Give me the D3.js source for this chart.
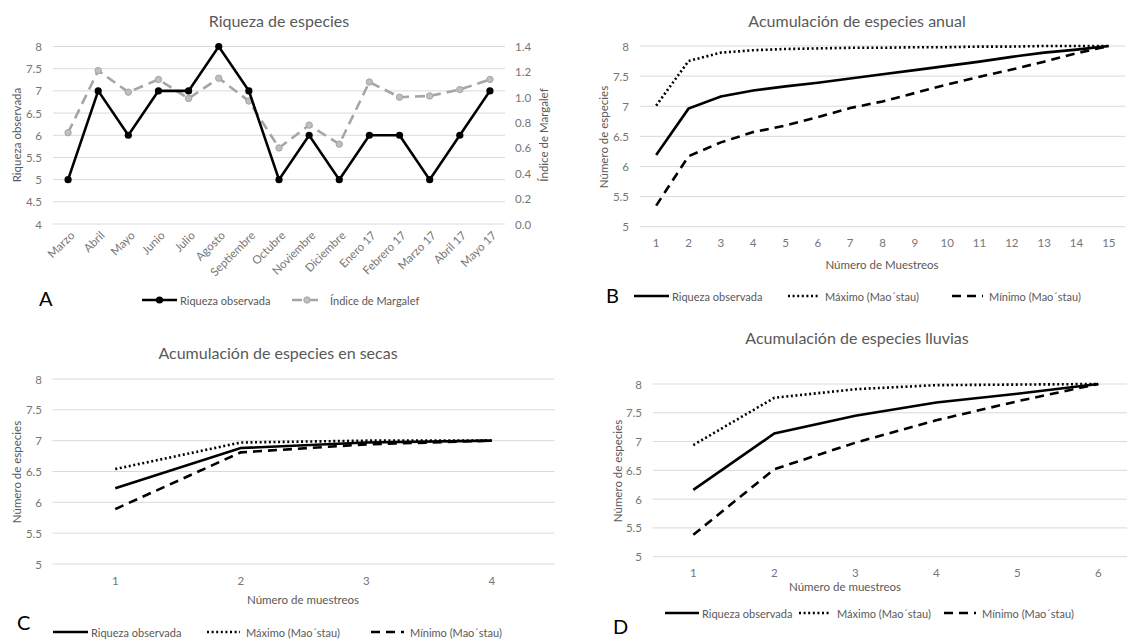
<!DOCTYPE html>
<html>
<head>
<meta charset="utf-8">
<script src="https://cdn.jsdelivr.net/npm/d3@7"></script>
<style>
  body { margin: 0; background: #fff; }
  text { font-family: Lato, "Open Sans", sans-serif; }
</style>
</head>
<body>
<svg id="fig" width="1127" height="639"></svg>
<script>
// ---- Riqueza mensual (panel A) ----
const meses = ["Marzo", "Abril", "Mayo", "Junio", "Julio", "Agosto", "Septiembre", "Octubre",
  "Noviembre", "Diciembre", "Enero 17", "Febrero 17", "Marzo 17", "Abril 17", "Mayo 17"];
const riquezaObservada = [5, 7, 6, 7, 7, 8, 7, 5, 6, 5, 6, 6, 5, 6, 7];
const indiceMargalef = [0.72, 1.21, 1.04, 1.14, 0.99, 1.15, 0.97, 0.60, 0.78, 0.63, 1.12, 1.00, 1.01, 1.06, 1.14];
const ticksRiqueza = [4, 4.5, 5, 5.5, 6, 6.5, 7, 7.5, 8];
const ticksMargalef = [0, 0.2, 0.4, 0.6, 0.8, 1.0, 1.2, 1.4];

// ---- Acumulación anual (panel B) ----
const muestreosAnual = [1, 2, 3, 4, 5, 6, 7, 8, 9, 10, 11, 12, 13, 14, 15];
const anualObservada = [6.19, 6.96, 7.16, 7.26, 7.33, 7.39, 7.46, 7.53, 7.60, 7.67, 7.74, 7.82, 7.89, 7.94, 8.0];
const anualMaximo = [7.01, 7.75, 7.89, 7.93, 7.95, 7.96, 7.97, 7.97, 7.98, 7.98, 7.99, 7.99, 8.0, 8.0, 8.0];
const anualMinimo = [5.35, 6.17, 6.40, 6.57, 6.68, 6.82, 6.97, 7.08, 7.22, 7.36, 7.49, 7.61, 7.74, 7.88, 8.0];

// ---- Acumulación en secas (panel C) ----
const muestreosSecas = [1, 2, 3, 4];
const secasObservada = [6.23, 6.88, 6.97, 7.0];
const secasMaximo = [6.54, 6.97, 7.0, 7.0];
const secasMinimo = [5.89, 6.81, 6.94, 7.0];

// ---- Acumulación en lluvias (panel D) ----
const muestreosLluvias = [1, 2, 3, 4, 5, 6];
const lluviasObservada = [6.16, 7.14, 7.45, 7.68, 7.83, 8.0];
const lluviasMaximo = [6.94, 7.76, 7.91, 7.98, 7.99, 8.0];
const lluviasMinimo = [5.38, 6.52, 6.98, 7.37, 7.70, 8.0];

const ticksEspecies = [5, 5.5, 6, 6.5, 7, 7.5, 8];

const svg = d3.select("#fig");
svg.append("rect").attr("width", 1127).attr("height", 639).attr("fill", "#fff");

const GRID = "#d9d9d9", TICK = "#767676", LABEL = "#595959";

const estilos = {
  obs: { dash: null, width: 2.6 },
  max: { dash: "2,2.6", width: 2.6 },
  min: { dash: "9,6", width: 2.6 }
};

function fmtTick(v) { return String(v); }

function yGrid(g, y, ticks, x0, x1) {
  g.selectAll("line.grid").data(ticks).join("line")
    .attr("class", "grid")
    .attr("x1", x0).attr("x2", x1)
    .attr("y1", d => y(d)).attr("y2", d => y(d))
    .attr("stroke", GRID).attr("stroke-width", 1);
}

function yLabels(g, y, ticks, xRight, fmt, anchor) {
  g.append("g").selectAll("text").data(ticks).join("text")
    .attr("x", xRight).attr("y", d => y(d))
    .attr("dominant-baseline", "central")
    .attr("text-anchor", anchor || "end")
    .attr("font-size", 11.5).attr("fill", TICK)
    .text(fmt);
}

function textAt(g, x, y, s, size, color, rotate, anchor) {
  const t = g.append("text")
    .attr("font-size", size).attr("fill", color)
    .attr("text-anchor", anchor || "middle")
    .attr("dominant-baseline", "central")
    .text(s);
  if (rotate) t.attr("transform", `translate(${x},${y}) rotate(${rotate})`);
  else t.attr("x", x).attr("y", y);
  return t;
}

function legendLine(g, x0, x1, y, style, color) {
  g.append("line").attr("x1", x0).attr("x2", x1).attr("y1", y).attr("y2", y)
    .attr("stroke", color || "#000").attr("stroke-width", style.width)
    .attr("stroke-dasharray", style.dash);
}

// ---------- Panel A ----------
(function () {
  const g = svg.append("g");
  const x = d3.scaleBand().domain(meses).range([53, 505]);
  const y = d3.scaleLinear().domain([4, 8]).range([224, 46.5]);
  const y2 = d3.scaleLinear().domain([0, 1.4]).range([224, 46.5]);
  const cx = d => x(d) + x.bandwidth() / 2;

  yGrid(g, y, ticksRiqueza, 53, 505);
  yLabels(g, y, ticksRiqueza, 42, fmtTick);
  yLabels(g, y2, ticksMargalef, 515, d3.format(".1f"), "start");

  g.append("g").selectAll("text").data(meses).join("text")
    .attr("transform", d => `translate(${cx(d) + 4},${233}) rotate(-45)`)
    .attr("text-anchor", "end").attr("dominant-baseline", "central")
    .attr("font-size", 11.5).attr("fill", TICK).text(d => d);

  textAt(g, 279, 20, "Riqueza de especies", 16, LABEL);
  textAt(g, 16, 135, "Riqueza observada", 11.5, LABEL, -90);
  textAt(g, 543, 135, "Índice de Margalef", 11.5, LABEL, -90);

  const m = meses.map((d, i) => ({ k: d, r: riquezaObservada[i], s: indiceMargalef[i] }));
  g.append("path").datum(m)
    .attr("d", d3.line().x(d => cx(d.k)).y(d => y2(d.s)))
    .attr("fill", "none").attr("stroke", "#a5a5a5").attr("stroke-width", 2.6)
    .attr("stroke-dasharray", "10,6");
  g.append("g").selectAll("circle").data(m).join("circle")
    .attr("cx", d => cx(d.k)).attr("cy", d => y2(d.s)).attr("r", 3.2)
    .attr("fill", "#bfbfbf").attr("stroke", "#a5a5a5").attr("stroke-width", 1);
  g.append("path").datum(m)
    .attr("d", d3.line().x(d => cx(d.k)).y(d => y(d.r)))
    .attr("fill", "none").attr("stroke", "#000").attr("stroke-width", 2.6);
  g.append("g").selectAll("circle").data(m).join("circle")
    .attr("cx", d => cx(d.k)).attr("cy", d => y(d.r)).attr("r", 3.6).attr("fill", "#000");

  // legend
  legendLine(g, 142, 177, 300, estilos.obs);
  g.append("circle").attr("cx", 159.5).attr("cy", 300).attr("r", 3.6).attr("fill", "#000");
  textAt(g, 180, 300, "Riqueza observada", 11, LABEL, null, "start");
  legendLine(g, 292, 322, 300, { dash: "10,6", width: 2.6 }, "#a5a5a5");
  g.append("circle").attr("cx", 307).attr("cy", 300).attr("r", 3.2)
    .attr("fill", "#bfbfbf").attr("stroke", "#a5a5a5");
  textAt(g, 330, 300, "Índice de Margalef", 11, LABEL, null, "start");

  textAt(g, 39, 298, "A", 20, "#000", null, "start");
})();

// ---------- Curvas de acumulación (B, C, D) ----------
function panelAcumulacion(c) {
  const g = svg.append("g");
  const x = d3.scaleBand().domain(c.cats).range([c.x0, c.x1]);
  const y = d3.scaleLinear().domain([5, 8]).range([c.yb, c.yt]);
  const cx = d => x(d) + x.bandwidth() / 2;

  yGrid(g, y, ticksEspecies, c.x0, c.x1);
  yLabels(g, y, ticksEspecies, c.yLabRight, fmtTick);
  g.append("g").selectAll("text").data(c.cats).join("text")
    .attr("x", d => cx(d)).attr("y", c.xLabY)
    .attr("text-anchor", "middle").attr("dominant-baseline", "central")
    .attr("font-size", 11.5).attr("fill", TICK).text(d => d);

  textAt(g, c.title[0], c.title[1], c.titleText, 16, LABEL);
  textAt(g, c.xTitle[0], c.xTitle[1], c.xTitleText, 11.5, LABEL);
  textAt(g, c.yTitle[0], c.yTitle[1], "Número  de especies", 11.5, LABEL, -90);

  const series = [
    { key: "max", vals: c.max },
    { key: "min", vals: c.min },
    { key: "obs", vals: c.obs }
  ];
  series.forEach(s => {
    const pts = c.cats.map((k, i) => [cx(k), y(s.vals[i])]);
    g.append("path").datum(pts)
      .attr("d", d3.line())
      .attr("fill", "none").attr("stroke", "#000")
      .attr("stroke-width", estilos[s.key].width)
      .attr("stroke-dasharray", estilos[s.key].dash);
  });

  // legend
  const L = c.legend;
  legendLine(g, L.obs[0], L.obs[1], L.y, estilos.obs);
  textAt(g, L.obs[1] + 3, L.y, "Riqueza observada", 11, LABEL, null, "start");
  legendLine(g, L.max[0], L.max[1], L.y, estilos.max);
  textAt(g, L.max[1] + 6, L.y, "Máximo (Mao´stau)", 11, LABEL, null, "start");
  legendLine(g, L.min[0], L.min[1], L.y, estilos.min);
  textAt(g, L.min[1] + 6, L.y, "Mínimo (Mao´stau)", 11, LABEL, null, "start");

  textAt(g, c.letter[0], c.letter[1], c.letterText, 20, "#000", null, "start");
}

panelAcumulacion({
  cats: muestreosAnual, obs: anualObservada, max: anualMaximo, min: anualMinimo,
  x0: 640, x1: 1125, yb: 226.7, yt: 46, yLabRight: 629, xLabY: 242,
  title: [857, 20], titleText: "Acumulación de especies anual",
  xTitle: [882, 264], xTitleText: "Número  de Muestreos",
  yTitle: [603, 137],
  legend: { y: 296, obs: [634, 669], max: [788, 819], min: [952, 983] },
  letter: [606, 295], letterText: "B"
});

panelAcumulacion({
  cats: muestreosSecas, obs: secasObservada, max: secasMaximo, min: secasMinimo,
  x0: 52.5, x1: 554.5, yb: 564, yt: 379, yLabRight: 42, xLabY: 580,
  title: [278, 352], titleText: "Acumulación de especies en secas",
  xTitle: [303, 599], xTitleText: "Número  de muestreos",
  yTitle: [16, 472],
  legend: { y: 632, obs: [53, 88], max: [207, 240], min: [371, 404] },
  letter: [17, 622], letterText: "C"
});

panelAcumulacion({
  cats: muestreosLluvias, obs: lluviasObservada, max: lluviasMaximo, min: lluviasMinimo,
  x0: 652.8, x1: 1138.8, yb: 556.7, yt: 384, yLabRight: 642, xLabY: 572,
  title: [857, 337], titleText: "Acumulación de especies lluvias",
  xTitle: [845, 586], xTitleText: "Número  de muestreos",
  yTitle: [617, 471],
  legend: { y: 613, obs: [665, 699], max: [799, 831], min: [944, 976] },
  letter: [613, 626], letterText: "D"
});
</script>
</body>
</html>
